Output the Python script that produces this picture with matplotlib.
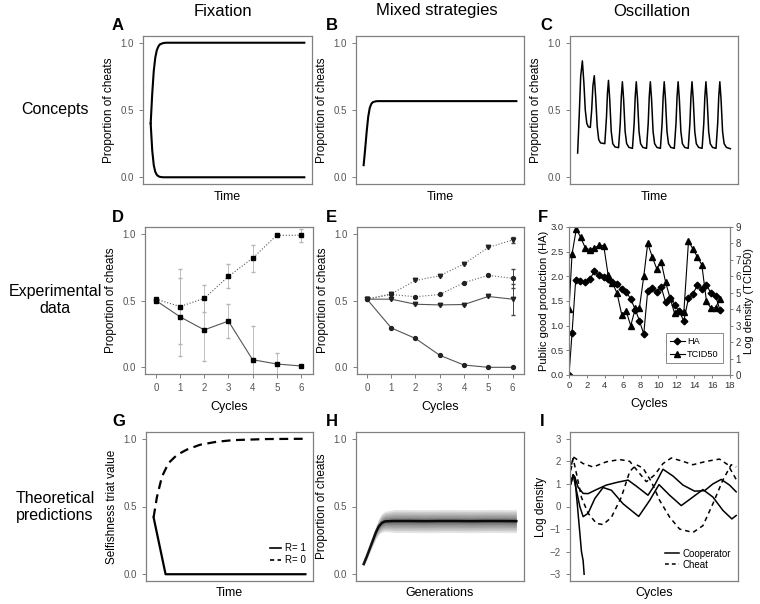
import matplotlib
matplotlib.use("Agg")
import matplotlib.pyplot as plt
from matplotlib.lines import Line2D

plt.rcParams['font.family'] = ['Liberation Sans', 'DejaVu Sans']

# ---- data ----
# A: fixation (time units 0..100)
a_t = [0, 1, 2, 3, 4, 5, 6, 8, 10, 100]
a_up = [0.40, 0.62, 0.79, 0.89, 0.945, 0.972, 0.988, 0.997, 1.0, 1.0]
a_down = [0.40, 0.20, 0.09, 0.04, 0.018, 0.008, 0.003, 0.0, 0.0, 0.0]

# B: mixed strategies
b_t = [0, 1, 2, 3, 4, 5, 6, 8, 10, 100]
b_y = [0.09, 0.21, 0.34, 0.45, 0.515, 0.545, 0.558, 0.565, 0.566, 0.566]

# C: oscillation
c_t = [0, 1.0, 2.0, 3.1, 4.1, 5.0, 6.0, 7.0, 8.3, 9.2, 10.0, 10.9, 11.8, 12.8, 13.8, 15.0,
       17.8, 18.9, 19.5, 20.2, 21.0, 22.0, 23.0, 24.5,
       26.8, 27.9, 28.6, 29.3, 30.1, 31.1, 32.1, 33.6,
       35.9, 37.0, 37.7, 38.4, 39.2, 40.2, 41.2, 42.7,
       45.1, 46.2, 46.9, 47.6, 48.4, 49.4, 50.4, 51.9,
       54.2, 55.3, 56.0, 56.7, 57.5, 58.5, 59.5, 61.0,
       63.3, 64.4, 65.1, 65.8, 66.6, 67.6, 68.6, 70.1,
       72.4, 73.5, 74.2, 74.9, 75.7, 76.7, 77.7, 79.2,
       81.5, 82.6, 83.3, 84.0, 84.8, 85.8, 86.8, 88.3,
       90.6, 91.7, 92.4, 93.1, 93.9, 94.9, 95.9, 97.4, 100]
c_y = [0.18, 0.45, 0.75, 0.865, 0.70, 0.50, 0.40, 0.375, 0.37, 0.50, 0.68, 0.755, 0.60, 0.38, 0.28, 0.255,
       0.25, 0.45, 0.62, 0.72, 0.58, 0.34, 0.25, 0.225,
       0.22, 0.40, 0.60, 0.71, 0.58, 0.34, 0.25, 0.222,
       0.215, 0.40, 0.60, 0.71, 0.58, 0.34, 0.25, 0.222,
       0.215, 0.40, 0.60, 0.71, 0.58, 0.34, 0.25, 0.222,
       0.215, 0.40, 0.60, 0.71, 0.58, 0.34, 0.25, 0.222,
       0.215, 0.40, 0.60, 0.71, 0.58, 0.34, 0.25, 0.222,
       0.215, 0.40, 0.60, 0.71, 0.58, 0.34, 0.25, 0.222,
       0.215, 0.40, 0.60, 0.71, 0.58, 0.34, 0.25, 0.222,
       0.215, 0.40, 0.60, 0.71, 0.58, 0.34, 0.25, 0.222, 0.212]

# D: experimental fixation
cycles = [0, 1, 2, 3, 4, 5, 6]
d_up = [0.51, 0.455, 0.516, 0.68, 0.816, 0.988, 0.988]
d_up_err = [0.01, 0.28, 0.10, 0.09, 0.10, 0.0, 0.05]
d_down = [0.50, 0.378, 0.28, 0.346, 0.057, 0.025, 0.01]
d_down_err = [0.01, 0.29, 0.23, 0.13, 0.25, 0.085, 0.0]

# E: experimental mixed strategies
e_s1 = [0.51, 0.55, 0.65, 0.685, 0.774, 0.897, 0.953]
e_s2 = [0.51, 0.545, 0.528, 0.545, 0.634, 0.688, 0.666]
e_s3 = [0.51, 0.51, 0.472, 0.467, 0.47, 0.53, 0.51]
e_s4 = [0.51, 0.295, 0.216, 0.09, 0.017, 0.0, 0.0]
e_err1 = [0, 0, 0, 0, 0, 0, 0.02]
e_err2 = [0, 0, 0, 0, 0, 0, 0.07]
e_err3 = [0, 0, 0, 0, 0, 0, 0.115]

# F: oscillation data (HA left axis, TCID50 right axis)
f_ha_x = [0, 0.34, 0.75, 1.27, 1.83, 2.35, 2.84, 3.36, 3.88, 4.37, 4.85, 5.37, 5.9, 6.38, 6.9,
          7.43, 7.87, 8.36, 8.8, 9.33, 9.81, 10.3, 10.8, 11.3, 11.8, 12.3, 12.84, 13.36,
          13.84, 14.36, 14.85, 15.37, 15.86, 16.38, 16.87]
f_ha_y = [0.0, 0.85, 1.93, 1.9, 1.88, 1.95, 2.1, 2.02, 1.98, 1.94, 1.88, 1.84, 1.75, 1.69, 1.54,
          1.32, 1.1, 0.83, 1.71, 1.76, 1.68, 1.79, 1.47, 1.56, 1.42, 1.29, 1.1, 1.56,
          1.64, 1.82, 1.75, 1.83, 1.66, 1.61, 1.32]
f_tc_x = [0, 0.34, 0.82, 1.3, 1.83, 2.35, 2.84, 3.36, 3.88, 4.37, 4.85, 5.37, 5.9, 6.38, 6.9,
          7.43, 7.87, 8.36, 8.8, 9.33, 9.81, 10.3, 10.8, 11.3, 11.8, 12.3, 12.84, 13.36,
          13.84, 14.36, 14.85, 15.37, 15.86, 16.38, 16.87]
f_tc_y = [4.0, 7.36, 8.88, 8.37, 7.72, 7.62, 7.72, 7.89, 7.87, 6.1, 5.6, 4.98, 3.66, 3.9, 3.0,
          4.07, 4.07, 6.0, 8.0, 7.15, 6.46, 6.9, 5.65, 4.67, 3.76, 3.9, 3.82, 8.13,
          7.68, 7.17, 6.7, 4.47, 4.07, 4.1, 4.63]

# G: selfishness trait
g_t0 = [0, 2.2, 5.5, 9.8, 15.3, 21.9, 30.6, 41.6, 52.5, 74.4, 100]
g_r0 = [0.42, 0.57, 0.72, 0.82, 0.88, 0.92, 0.956, 0.978, 0.99, 0.998, 1.0]
g_t1 = [0, 7.9, 100]
g_r1 = [0.42, 0.0, 0.0]

# H: simulated generations (centre and spread of the band)
h_t = [0, 2, 4, 6, 8, 10, 12, 14, 17, 20, 30, 40, 50, 60, 70, 80, 90, 100]
h_mid = [0.075, 0.13, 0.19, 0.25, 0.31, 0.355, 0.38, 0.39, 0.392, 0.393, 0.393, 0.392,
         0.393, 0.393, 0.392, 0.393, 0.393, 0.392]
h_spread = [0.02, 0.025, 0.03, 0.04, 0.05, 0.06, 0.07, 0.075, 0.08, 0.085, 0.085, 0.085,
            0.085, 0.085, 0.085, 0.085, 0.085, 0.085]

# I: log density predictions
i_coop_die_t = [0, 1.4, 2.4, 4.0, 6.4, 7.4, 8.0]
i_coop_die_y = [1.0, 1.4, 1.3, 0.0, -2.0, -2.4, -3.0]
i_coop_a_t = [0, 1.4, 2.4, 4.4, 7.4, 10.4, 15.4, 21.4, 28.4, 34.4, 39.4, 46.4, 50.4, 55.4,
              61.4, 67.4, 74.4, 80.4, 85.4, 90.4, 95.4, 99.4]
i_coop_a_y = [1.05, 1.4, 1.3, 0.85, 0.58, 0.57, 0.75, 0.95, 1.08, 1.17, 0.9, 0.5, 0.95, 1.65,
              1.35, 0.95, 0.68, 0.7, 1.0, 1.2, 0.95, 0.65]
i_coop_b_t = [0, 1.4, 3.4, 5.4, 7.4, 10.4, 14.4, 19.4, 24.4, 31.4, 40.8, 47.4, 53.0, 59.4,
              66.4, 73.4, 79.4, 85.4, 91.4, 96.8, 99.4]
i_coop_b_y = [1.0, 1.4, 0.7, 0.0, -0.45, -0.3, 0.35, 0.84, 0.72, 0.12, -0.44, 0.27, 0.97, 0.5,
              0.04, 0.42, 0.75, 0.42, -0.17, -0.55, -0.4]
i_cheat_c_t = [0.4, 1.4, 7.4, 13.4, 21.4, 29.4, 35.4, 40.4, 45.4, 50.4, 55.4, 60.4, 67.4,
               73.4, 81.4, 89.4, 94.4, 99.4]
i_cheat_c_y = [1.85, 2.2, 1.9, 1.75, 1.98, 2.08, 2.0, 1.55, 1.1, 1.4, 1.9, 2.15, 2.0,
               1.85, 2.0, 2.1, 1.85, 1.2]
i_cheat_d_t = [0, 1.4, 3.4, 6.4, 10.4, 15.4, 19.4, 24.4, 30.4, 35.4, 39.4, 43.4, 48.4, 53.4,
               59.4, 65.4, 73.4, 79.4, 85.4, 91.4, 96.4, 99.4]
i_cheat_d_y = [1.6, 2.13, 1.45, 0.4, -0.3, -0.75, -0.8, -0.48, 0.42, 1.55, 1.85, 1.7, 1.1, 0.27,
               -0.47, -1.0, -1.15, -0.85, 0.12, 1.17, 1.85, 1.75]

# ---- layout ----
W, H = 760, 604
fig = plt.figure(figsize=(7.6, 6.04), dpi=100)

FRAME = '#808080'
TICKTXT = '#555555'


def add_ax(l, t, r, b):
    return fig.add_axes([l / W, 1 - b / H, (r - l) / W, (b - t) / H])


def style(ax, xticks=False):
    for s in ax.spines.values():
        s.set_color(FRAME)
        s.set_linewidth(0.9)
    ax.tick_params(colors=FRAME, labelcolor=TICKTXT, labelsize=7, length=3, width=0.7)
    if not xticks:
        ax.set_xticks([])


def prop_axis(ax):
    ax.set_ylim(-0.05, 1.05)
    ax.set_yticks([0, 0.5, 1.0])
    ax.set_yticklabels(['0.0', '0.5', '1.0'])


def letter(x, y, s):
    fig.text(x / W, 1 - y / H, s, fontsize=12, fontweight='bold', ha='left', va='center')


# column and row headings
for x, s in [(223, 'Fixation'), (437, 'Mixed strategies'), (652, 'Oscillation')]:
    fig.text(x / W, 1 - 11 / H, s, fontsize=12, ha='center', va='center')
for y, s in [(110, 'Concepts'), (300, 'Experimental\ndata'), (507, 'Theoretical\npredictions')]:
    fig.text(55 / W, 1 - y / H, s, fontsize=11.5, ha='center', va='center', linespacing=1.1)

xr = (-5, 105)

# A
ax = add_ax(143, 36, 312, 184)
style(ax)
ax.plot(a_t, a_up, color='k', lw=1.5)
ax.plot(a_t, a_down, color='k', lw=1.5)
ax.set_xlim(*xr)
prop_axis(ax)
ax.set_ylabel('Proportion of cheats', fontsize=8.5)
ax.set_xlabel('Time', fontsize=9, labelpad=5)
letter(112, 26, 'A')

# B
ax = add_ax(356, 36, 524, 184)
style(ax)
ax.plot(b_t, b_y, color='k', lw=1.5)
ax.set_xlim(*xr)
prop_axis(ax)
ax.set_ylabel('Proportion of cheats', fontsize=8.5)
ax.set_xlabel('Time', fontsize=9, labelpad=5)
letter(326, 26, 'B')

# C
ax = add_ax(570, 36, 738, 184)
style(ax)
ax.plot(c_t, c_y, color='k', lw=1.1)
ax.set_xlim(*xr)
prop_axis(ax)
ax.set_ylabel('Proportion of cheats', fontsize=8.5)
ax.set_xlabel('Time', fontsize=9, labelpad=5)
letter(540, 26, 'C')

# D
ax = add_ax(145, 227, 313, 374)
style(ax, xticks=True)
ax.errorbar(cycles, d_up, yerr=d_up_err, fmt='none', ecolor='#b5b5b5', elinewidth=0.6, capsize=1.2)
ax.errorbar(cycles, d_down, yerr=d_down_err, fmt='none', ecolor='#b5b5b5', elinewidth=0.6, capsize=1.2)
ax.plot(cycles, d_up, color='#555555', lw=0.8, ls=':', marker='s', ms=3, mfc='k', mec='k')
ax.plot(cycles, d_down, color='#555555', lw=0.8, ls='-', marker='s', ms=3, mfc='k', mec='k')
ax.set_xlim(-0.45, 6.5)
ax.set_xticks(cycles)
prop_axis(ax)
ax.set_ylabel('Proportion of cheats', fontsize=8.5)
ax.set_xlabel('Cycles', fontsize=9, labelpad=6)
letter(112, 218, 'D')

# E
ax = add_ax(357, 227, 524, 374)
style(ax, xticks=True)
ax.errorbar(cycles, e_s1, yerr=e_err1, fmt='none', ecolor='#444444', elinewidth=0.7, capsize=1.5)
ax.errorbar(cycles, e_s2, yerr=e_err2, fmt='none', ecolor='#444444', elinewidth=0.7, capsize=1.5)
ax.errorbar(cycles, e_s3, yerr=e_err3, fmt='none', ecolor='#444444', elinewidth=0.7, capsize=1.5)
ax.plot(cycles, e_s1, color='#666666', lw=0.8, ls=':', marker='v', ms=3.2, mfc='#222222', mec='#222222')
ax.plot(cycles, e_s2, color='#666666', lw=0.8, ls=':', marker='o', ms=2.8, mfc='#222222', mec='#222222')
ax.plot(cycles, e_s3, color='#555555', lw=0.8, ls='-', marker='v', ms=3.2, mfc='#222222', mec='#222222')
ax.plot(cycles, e_s4, color='#555555', lw=0.8, ls='-', marker='o', ms=2.8, mfc='#222222', mec='#222222')
ax.set_xlim(-0.41, 6.47)
ax.set_xticks(cycles)
prop_axis(ax)
ax.set_ylabel('Proportion of cheats', fontsize=8.5)
ax.set_xlabel('Cycles', fontsize=9, labelpad=6)
letter(326, 218, 'E')

# F
ax = add_ax(569, 227, 730, 375)
for s in ax.spines.values():
    s.set_color(FRAME)
    s.set_linewidth(0.8)
ax.plot(f_ha_x, f_ha_y, color='k', lw=0.8, marker='D', ms=3.4)
ax.set_xlim(0, 18)
ax.set_ylim(0, 3)
ax.set_xticks(range(0, 19, 2))
ax.set_yticks([0, 0.5, 1.0, 1.5, 2.0, 2.5, 3.0])
ax.set_yticklabels(['0.0', '0.5', '1.0', '1.5', '2.0', '2.5', '3.0'])
ax.tick_params(colors=FRAME, labelcolor='#333333', labelsize=6.8, length=2.5, width=0.7, pad=1.5)
ax.set_ylabel('Public good production (HA)', fontsize=8, labelpad=1)
ax.set_xlabel('Cycles', fontsize=9, labelpad=6)
ax2 = ax.twinx()
for s in ax2.spines.values():
    s.set_color(FRAME)
    s.set_linewidth(0.8)
ax2.plot(f_tc_x, f_tc_y, color='k', lw=0.8, marker='^', ms=3.8)
ax2.set_ylim(0, 9)
ax2.set_yticks(range(0, 10))
ax2.tick_params(colors=FRAME, labelcolor='#333333', labelsize=7, length=2.5, width=0.7, pad=1.5)
ax2.set_ylabel('Log density (TCID50)', fontsize=8, labelpad=2)
leg_handles = [Line2D([], [], color='k', lw=0.8, marker='D', ms=3.4),
               Line2D([], [], color='k', lw=0.8, marker='^', ms=3.8)]
lg = ax2.legend(leg_handles, ['HA', 'TCID50'], loc='lower right', bbox_to_anchor=(0.985, 0.05),
                fontsize=6.6, frameon=True, fancybox=False, handlelength=1.6, borderpad=0.45,
                labelspacing=0.45, handletextpad=0.3)
lg.get_frame().set_edgecolor('#555555')
lg.get_frame().set_linewidth(0.6)
letter(538, 218, 'F')

# G
ax = add_ax(146, 432, 313, 581)
style(ax)
ax.plot(g_t0, g_r0, color='k', lw=1.6, ls=(0, (4, 2.5)))
ax.plot(g_t1, g_r1, color='k', lw=1.6)
ax.set_xlim(*xr)
prop_axis(ax)
ax.set_ylabel('Selfishness triat value', fontsize=8.5)
ax.set_xlabel('Time', fontsize=9, labelpad=4)
gh = [Line2D([], [], color='k', lw=1.2), Line2D([], [], color='k', lw=1.2, ls=(0, (2.5, 2)))]
ax.legend(gh, ['R= 1', 'R= 0'], loc='lower right', bbox_to_anchor=(1.0, 0.06), frameon=False,
          fontsize=7, handlelength=1.2, handletextpad=0.4, labelspacing=0.2, borderpad=0.2)
letter(112, 422, 'G')

# H
ax = add_ax(356, 432, 524, 581)
style(ax)
for frac in [1.0, 0.85, 0.7, 0.55, 0.42, 0.3, 0.2, 0.12]:
    lo = [m - s * frac for m, s in zip(h_mid, h_spread)]
    hi = [m + s * frac for m, s in zip(h_mid, h_spread)]
    ax.fill_between(h_t, lo, hi, color='k', alpha=0.1, lw=0)
ax.plot(h_t, h_mid, color='k', lw=1.8, alpha=0.9)
ax.set_xlim(*xr)
prop_axis(ax)
ax.set_ylabel('Proportion of cheats', fontsize=8.5)
ax.set_xlabel('Generations', fontsize=9, labelpad=4)
letter(326, 422, 'H')

# I
ax = add_ax(570, 432, 738, 581)
style(ax)
ax.plot(i_coop_die_t, i_coop_die_y, color='k', lw=1.1)
ax.plot(i_coop_a_t, i_coop_a_y, color='k', lw=1.1)
ax.plot(i_coop_b_t, i_coop_b_y, color='k', lw=1.1)
ax.plot(i_cheat_c_t, i_cheat_c_y, color='k', lw=1.1, ls=(0, (3, 2.5)))
ax.plot(i_cheat_d_t, i_cheat_d_y, color='k', lw=1.1, ls=(0, (3, 2.5)))
ax.set_xlim(-0.5, 100.5)
ax.set_ylim(-3.3, 3.3)
ax.set_yticks(range(-3, 4))
ax.set_ylabel('Log density', fontsize=8.5, labelpad=2)
ax.set_xlabel('Cycles', fontsize=9, labelpad=4)
ih = [Line2D([], [], color='k', lw=1.1), Line2D([], [], color='k', lw=1.1, ls=(0, (2.5, 2)))]
ax.legend(ih, ['Cooperator', 'Cheat'], loc='lower right', bbox_to_anchor=(1.0, 0.03), frameon=False,
          fontsize=7, handlelength=1.4, handletextpad=0.4, labelspacing=0.1, borderpad=0.2)
letter(540, 422, 'I')

fig.savefig('out.png', dpi=100)
